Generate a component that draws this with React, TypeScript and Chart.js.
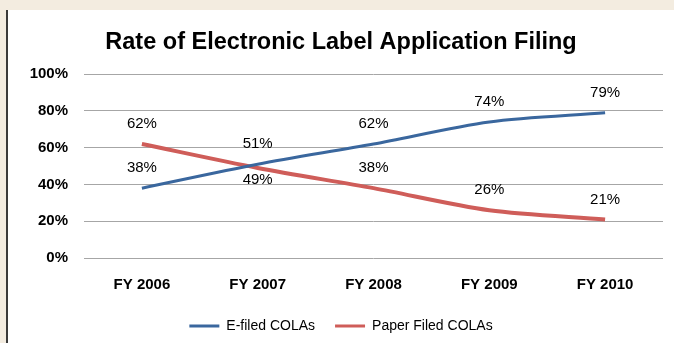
import React, { useEffect, useRef } from "react";
import { Chart, registerables } from "chart.js";

Chart.register(...registerables);

const categories = ["FY 2006", "FY 2007", "FY 2008", "FY 2009", "FY 2010"];
const eFiled = [38, 51, 62, 74, 79];
const paperFiled = [62, 49, 38, 26, 21];
const eFiledLabelPos = ["above", "above", "above", "above", "above"];
const paperLabelPos = ["above", "below", "above", "above", "above"];
const yTicks = [0, 20, 40, 60, 80, 100];

const BLUE = "#3A679E";
const RED = "#CF5D59";
const FONT = "'Liberation Sans', Arial, sans-serif";

const labelPlugin = {
  id: "pointLabels",
  afterDatasetsDraw(chart: any) {
    const ctx = chart.ctx;
    ctx.save();
    ctx.font = `15px ${FONT}`;
    ctx.fillStyle = "#000";
    ctx.textAlign = "center";
    ctx.textBaseline = "middle";
    chart.data.datasets.forEach((ds: any, di: number) => {
      const meta = chart.getDatasetMeta(di);
      const positions = ds.labelPos as string[];
      meta.data.forEach((pt: any, i: number) => {
        const off = positions[i] === "below" ? 12 : -20;
        ctx.fillText(`${ds.data[i]}%`, pt.x, pt.y + off);
      });
    });
    ctx.restore();
  },
};

export default function App() {
  const ref = useRef<HTMLCanvasElement>(null);
  useEffect(() => {
    if (!ref.current) return;
    const chart = new Chart(ref.current, {
      type: "line",
      data: {
        labels: categories,
        datasets: [
          {
            label: "E-filed COLAs",
            data: eFiled,
            borderColor: BLUE,
            backgroundColor: BLUE,
            borderWidth: 3,
            pointRadius: 0,
            tension: 0.3,
            labelPos: eFiledLabelPos,
          } as any,
          {
            label: "Paper Filed COLAs",
            data: paperFiled,
            borderColor: RED,
            backgroundColor: RED,
            borderWidth: 4,
            pointRadius: 0,
            tension: 0.3,
            labelPos: paperLabelPos,
          } as any,
        ],
      },
      options: {
        animation: false,
        responsive: false,
        devicePixelRatio: 1,
        layout: { padding: { top: 0, left: 0, right: 0, bottom: 0 } },
        plugins: {
          title: {
            display: true,
            text: "Rate of Electronic Label Application Filing",
            color: "#000",
            font: { family: FONT, size: 23.5, weight: "bold" },
            padding: { top: 18, bottom: 18 },
          },
          legend: {
            position: "bottom",
            labels: {
              color: "#000",
              font: { family: FONT, size: 14 },
              boxWidth: 30,
              boxHeight: 3,
              padding: 20,
              generateLabels: (c: any) =>
                c.data.datasets.map((ds: any, i: number) => ({
                  text: ds.label,
                  fillStyle: ds.borderColor,
                  strokeStyle: ds.borderColor,
                  lineWidth: 0,
                  hidden: false,
                  datasetIndex: i,
                  fontColor: "#000",
                })),
            },
          },
          tooltip: { enabled: false },
        },
        scales: {
          x: {
            offset: true,
            grid: { display: false },
            border: { display: false },
            ticks: {
              color: "#000",
              font: { family: FONT, size: 15, weight: "bold" },
              padding: 10,
            },
            afterFit: (s: any) => {
              s.height = 41;
            },
          },
          y: {
            min: 0,
            max: 100,
            afterBuildTicks: (s: any) => {
              s.ticks = yTicks.map((v) => ({ value: v }));
            },
            grid: { color: "#A6A6A6", lineWidth: 1, drawTicks: false },
            border: { display: false },
            ticks: {
              color: "#000",
              font: { family: FONT, size: 15, weight: "bold" },
              padding: 16,
              callback: (v: any) => `${v}%`,
            },
            afterFit: (s: any) => {
              s.width = 76;
            },
          },
          y2: {
            position: "right",
            display: true,
            grid: { display: false },
            border: { display: false },
            ticks: { display: false },
            afterFit: (s: any) => {
              s.width = 11;
            },
          },
        },
      } as any,
      plugins: [labelPlugin],
    });
    return () => chart.destroy();
  }, []);

  return (
    <div style={{ position: "fixed", inset: 0, background: "#F3ECE0" }}>
      <div
        style={{
          position: "absolute",
          left: 6,
          top: 10,
          right: 0,
          bottom: 0,
          background: "#fff",
          borderLeft: "2px solid #3A3A3A",
        }}
      >
        <canvas ref={ref} width={666} height={333} style={{ display: "block", width: 666, height: 333 }} />
      </div>
    </div>
  );
}
